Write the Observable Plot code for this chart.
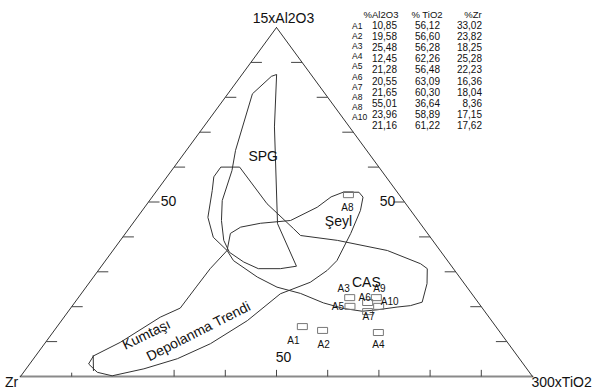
<!DOCTYPE html>
<html>
<head>
<meta charset="utf-8">
<script src="https://cdn.jsdelivr.net/npm/d3@7"></script>
<script src="https://cdn.jsdelivr.net/npm/@observablehq/plot@0.6"></script>
<style>
  body { margin: 0; background: #fff; }
  #wrap { position: relative; width: 594px; height: 390px; font-family: "Liberation Sans", Arial, sans-serif; color: #111; }
  .t { position: absolute; white-space: nowrap; line-height: 1; }
</style>
</head>
<body>
<div id="wrap"></div>
<script>
// ---------- data ----------
const vertexLabels = ["15xAl2O3", "Zr", "300xTiO2"];
const sideTicks = [10, 20, 30, 40, 50, 60, 70, 80, 90];
const baseTicks = [10, 30, 40, 50, 60, 70, 80, 90];
const tickLabel = "50";

// plotted sample boxes (ternary %: Al2O3, TiO2)
const sampleNames = ["A1", "A2", "A3", "A4", "A5", "A6", "A7", "A8", "A9", "A10"];
const sampleAl = [14.3, 13.2, 22.6, 12.6, 20.1, 21.2, 18.6, 52.1, 22.6, 20.1];
const sampleTi = [47.9, 52.4, 53.0, 63.6, 54.3, 57.2, 58.5, 38.0, 58.2, 59.9];

// table in the corner
const tableHeader = ["%Al2O3", "% TiO2", "%Zr"];
const tableRows = ["A1", "A2", "A3", "A4", "A5", "A6", "A7", "A8", "A8", "A10"];
const tableAl = [10.85, 19.58, 25.48, 12.45, 21.28, 20.55, 21.65, 55.01, 23.96, 21.16];
const tableTi = [56.12, 56.60, 56.28, 62.26, 56.48, 63.09, 60.30, 36.64, 58.89, 61.22];
const tableZr = [33.02, 23.82, 18.25, 25.28, 22.23, 16.36, 18.04, 8.36, 17.15, 17.62];

// field outlines as [Al2O3 %, TiO2 %]
const spgField = [[86.5,6.7],[86.0,6.0],[81.0,4.8],[64.8,9.6],[59.0,11.8],[50.4,14.2],[44.7,16.9],[39.0,20.2],[35.6,23.0],[32.8,27.2],[30.9,31.0],[30.9,35.3],[31.6,38.1],[43.8,28.3],[71.4,13.9]];
const casField = [[60.0,9.2],[60.0,12.8],[49.5,23.4],[42.4,32.1],[40.4,34.5],[39.0,42.4],[36.1,53.6],[32.3,62.0],[30.9,64.0],[26.6,66.1],[21.3,67.8],[20.3,66.0],[19.9,63.6],[19.1,60.1],[18.7,57.4],[19.5,53.3],[21.1,48.6],[23.8,42.8],[25.6,37.3],[28.5,32.0],[33.2,25.0],[36.1,22.3],[39.9,17.7],[45.6,13.8],[53.3,10.8],[57.1,9.2]];
const seylKumtasiField = [[52.8,36.7],[52.8,39.7],[51.4,41.2],[47.6,42.6],[41.0,44.0],[33.2,45.2],[30.4,44.7],[27.0,43.1],[23.7,38.9],[16.0,36.3],[9.4,32.4],[5.1,28.1],[2.2,23.0],[0.2,17.8],[1.2,14.4],[3.6,11.5],[5.9,11.3],[9.8,14.6],[17.0,18.8],[19.6,21.4],[25.9,21.5],[30.9,21.6],[36.1,22.3],[41.0,20.5],[42.8,21.6],[43.9,24.9],[44.7,30.4],[48.5,33.7],[51.4,34.9]];
const kumtasiTipStroke = [[6.0,11.2],[1.7,13.4]];

const fieldNames = ["SPG", "Şeyl", "CAS", "Kumtaşı", "Depolanma Trendi"];
const fieldLabelAl = [63.0, 44.4, 26.9, 12.0, 12.9];
const fieldLabelTi = [15.9, 39.9, 54.1, 18.6, 28.3];

// ---------- helpers ----------
const X = d => d.ti + d.al / 2;
const Y = d => d.al;
const font = "Liberation Sans, Arial, sans-serif";

const fields = [
  ...spgField.map(([al, ti]) => ({field: "SPG", al, ti})),
  ...casField.map(([al, ti]) => ({field: "CAS", al, ti})),
  ...seylKumtasiField.map(([al, ti]) => ({field: "SK", al, ti}))
];
const tip = kumtasiTipStroke.map(([al, ti]) => ({al, ti}));
const samples = sampleNames.map((name, i) => ({name, al: sampleAl[i], ti: sampleTi[i]}));
const fieldLabels = fieldNames.map((name, i) => ({name, al: fieldLabelAl[i], ti: fieldLabelTi[i]}));

const leftSide = [{al: 100, ti: 0}, {al: 0, ti: 0}];
const rightSide = [{al: 100, ti: 0}, {al: 0, ti: 100}];
const baseSide = [{al: 0, ti: 0}, {al: 0, ti: 100}];

const boxSymbol = { draw(ctx) { ctx.rect(-5, -3, 10, 6); } };

const labelOffset = {A1: [-9, 14], A2: [1, 14], A3: [-6, -9], A4: [0, 12], A5: [-12, 0], A6: [-3, -5], A7: [1, 5], A8: [-1, 13], A9: [3, -9], A10: [11, -5]};
const fieldRotate = {"SPG": 0, "Şeyl": 0, "CAS": 0, "Kumtaşı": -26, "Depolanma Trendi": -27};

const tickLen = 2.15;

const chart = Plot.plot({
  width: 594,
  height: 390,
  marginLeft: 20,
  marginRight: 62,
  marginTop: 27,
  marginBottom: 14,
  x: {domain: [0, 100], axis: null},
  y: {domain: [0, 100], axis: null},
  style: {fontFamily: font, background: "white", overflow: "visible"},
  marks: [
    // triangle
    Plot.line(baseSide, {x: X, y: Y, stroke: "#8a8a8a", strokeWidth: 2}),
    Plot.line(leftSide, {x: X, y: Y, stroke: "#333", strokeWidth: 1}),
    Plot.line(rightSide, {x: X, y: Y, stroke: "#333", strokeWidth: 1}),
    // ticks
    Plot.link(sideTicks, {x1: a => a / 2, y1: a => a, x2: a => a / 2 + tickLen, y2: a => a, stroke: "#444", strokeWidth: 1}),
    Plot.link(sideTicks, {x1: a => 100 - a / 2, y1: a => a, x2: a => 100 - a / 2 - tickLen, y2: a => a, stroke: "#444", strokeWidth: 1}),
    Plot.link(baseTicks, {x1: t => t, y1: 0, x2: t => t, y2: t => (t === 10 ? 1.1 : 1.9), stroke: "#444", strokeWidth: 1}),
    // tick labels "50"
    Plot.text([tickLabel], {x: 25, y: 50, text: d => d, dx: 20, dy: 0, fontSize: 14, fill: "#111"}),
    Plot.text([tickLabel], {x: 75, y: 50, text: d => d, dx: -17, dy: 0, fontSize: 14, fill: "#111"}),
    Plot.text([tickLabel], {x: 50, y: 0, text: d => d, dx: 7, dy: -19, fontSize: 14, fill: "#111"}),
    // vertex labels
    Plot.text([vertexLabels[0]], {x: 50, y: 100, text: d => d, dx: 7, dy: -9, fontSize: 14, fill: "#111"}),
    Plot.text([vertexLabels[1]], {x: 0, y: 0, text: d => d, dx: -9, dy: 6, fontSize: 14, fill: "#111"}),
    Plot.text([vertexLabels[2]], {x: 100, y: 0, text: d => d, dx: -1, dy: 6, fontSize: 14, textAnchor: "start", fill: "#111"}),
    // fields
    Plot.line(fields, {x: X, y: Y, z: "field", curve: "linear-closed", stroke: "#333", strokeWidth: 1}),
    Plot.line(tip, {x: X, y: Y, stroke: "#333", strokeWidth: 1}),
    // field labels
    ...fieldLabels.map(d => Plot.text([d], {x: X, y: Y, text: "name", fontSize: 14, rotate: fieldRotate[d.name], fill: "#111"})),
    // samples
    Plot.dot(samples, {x: X, y: Y, symbol: boxSymbol, stroke: "#777", strokeWidth: 1, fill: "none"}),
    ...samples.map(d => Plot.text([d], {x: X, y: Y, text: "name", fontSize: 10, dx: labelOffset[d.name][0], dy: labelOffset[d.name][1], fill: "#111"}))
  ]
});

const wrap = document.getElementById("wrap");
wrap.appendChild(chart);

// ---------- table overlay ----------
function put(text, x, y, anchor, size) {
  const s = document.createElement("div");
  s.className = "t";
  s.textContent = text;
  const tx = anchor === "end" ? "-100%" : anchor === "middle" ? "-50%" : "0";
  s.style.left = x + "px";
  s.style.top = y + "px";
  s.style.fontSize = size + "px";
  s.style.transform = `translate(${tx}, -50%)`;
  wrap.appendChild(s);
}
const fmt = v => v.toFixed(2).replace(".", ",");
const headerX = [381, 427, 473];
tableHeader.forEach((h, i) => put(h, headerX[i], 15, "middle", 9.5));
const colRight = [397, 440, 482];
tableRows.forEach((r, i) => {
  put(r, 352, 25.5 + 10.2 * i, "start", 8.5);
  const y = 26 + 11.1 * i;
  put(fmt(tableAl[i]), colRight[0], y, "end", 10);
  put(fmt(tableTi[i]), colRight[1], y, "end", 10);
  put(fmt(tableZr[i]), colRight[2], y, "end", 10);
});
</script>
</body>
</html>
